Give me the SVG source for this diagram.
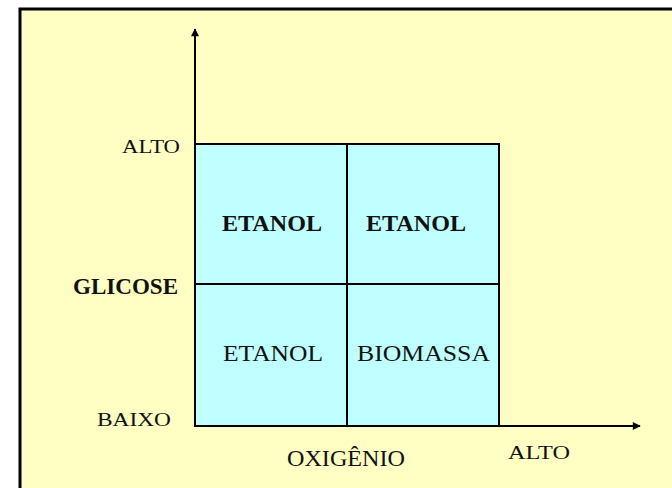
<svg xmlns="http://www.w3.org/2000/svg" width="672" height="488" viewBox="0 0 672 488">
  <defs>
    <marker id="arrow" viewBox="0 0 10 10" refX="9" refY="5" markerWidth="9" markerHeight="8" orient="auto" markerUnits="userSpaceOnUse">
      <path d="M0,0 L10,5 L0,10 Z" fill="#000"/>
    </marker>
    <style>
      .cell { fill: #bfffff; stroke: #000; stroke-width: 2; }
      .axis { stroke: #000; stroke-width: 2; fill: none; }
      .tick { font-family: "Liberation Serif", "Times New Roman", serif; font-size: 19px; fill: #111; }
      .bold { font-family: "Liberation Serif", "Times New Roman", serif; font-size: 24px; font-weight: bold; fill: #111; }
      .reg { font-family: "Liberation Serif", "Times New Roman", serif; font-size: 24px; fill: #111; }
    </style>
  </defs>

  <!-- page and frame -->
  <rect x="0" y="0" width="672" height="488" fill="#fff"/>
  <rect x="20" y="9" width="660" height="490" fill="#ffffc4" stroke="#000" stroke-width="3"/>

  <!-- quadrants -->
  <g id="cell-high-glucose-low-oxygen">
    <rect class="cell" x="195" y="144" width="152" height="140"/>
    <text class="bold" x="222" y="231" textLength="100" lengthAdjust="spacingAndGlyphs">ETANOL</text>
  </g>
  <g id="cell-high-glucose-high-oxygen">
    <rect class="cell" x="347" y="144" width="152" height="140"/>
    <text class="bold" x="366" y="231" textLength="100" lengthAdjust="spacingAndGlyphs">ETANOL</text>
  </g>
  <g id="cell-low-glucose-low-oxygen">
    <rect class="cell" x="195" y="284" width="152" height="142"/>
    <text class="reg" x="223" y="361" textLength="100" lengthAdjust="spacingAndGlyphs">ETANOL</text>
  </g>
  <g id="cell-low-glucose-high-oxygen">
    <rect class="cell" x="347" y="284" width="152" height="142"/>
    <text class="reg" x="357" y="361" textLength="133" lengthAdjust="spacingAndGlyphs">BIOMASSA</text>
  </g>

  <!-- axes -->
  <g id="connectors">
    <line class="axis" x1="195" y1="427" x2="195" y2="29" marker-end="url(#arrow)"/>
    <line class="axis" x1="194" y1="426" x2="640" y2="426" marker-end="url(#arrow)"/>
  </g>

  <!-- axis labels -->
  <g id="label-y-high"><text class="tick" x="122" y="153" textLength="58" lengthAdjust="spacingAndGlyphs">ALTO</text></g>
  <g id="label-y-axis"><text class="bold" x="73" y="294" textLength="105" lengthAdjust="spacingAndGlyphs" font-size="23">GLICOSE</text></g>
  <g id="label-y-low"><text class="tick" x="97" y="426" textLength="74" lengthAdjust="spacingAndGlyphs">BAIXO</text></g>
  <g id="label-x-axis"><text class="reg" x="287" y="466" textLength="118" lengthAdjust="spacingAndGlyphs">OXIGÊNIO</text></g>
  <g id="label-x-high"><text class="tick" x="508" y="459" textLength="62" lengthAdjust="spacingAndGlyphs">ALTO</text></g>
</svg>
